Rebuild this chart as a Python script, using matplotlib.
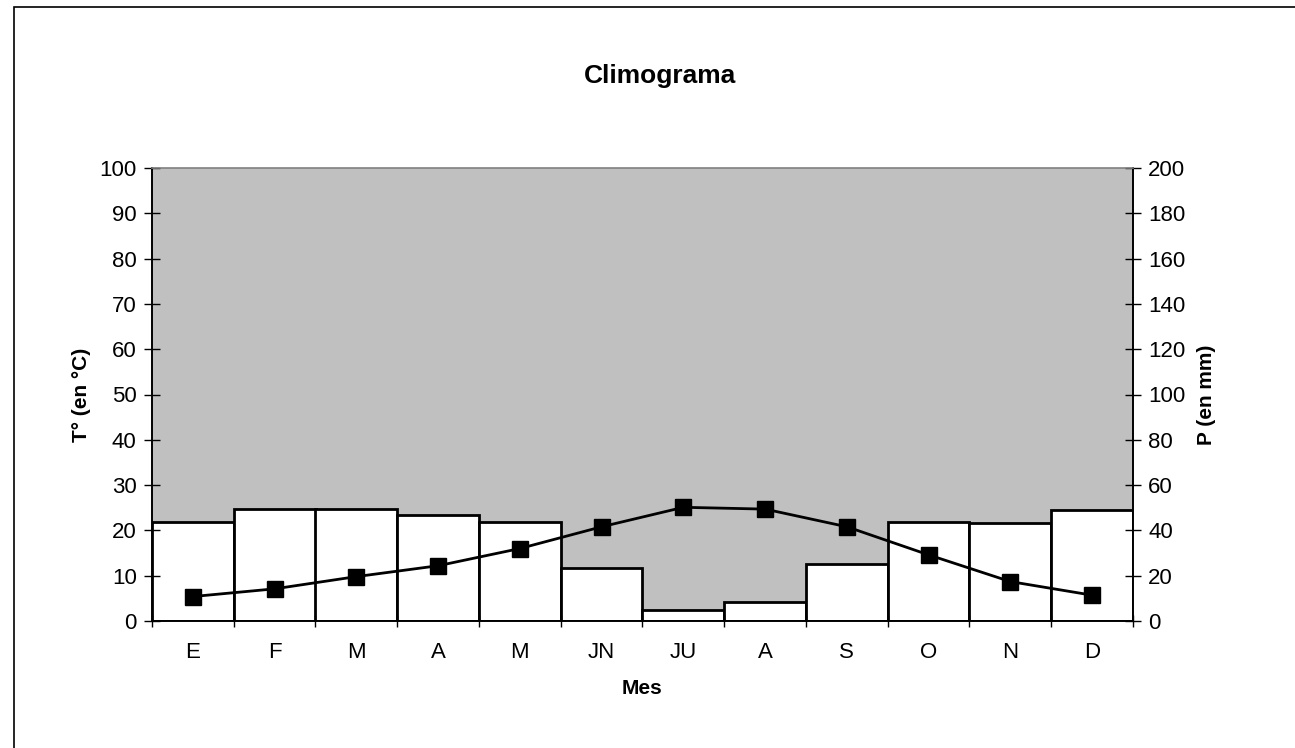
import numpy as np
import matplotlib.pyplot as plt
from matplotlib.patches import Rectangle

# =====================================================
# Data
# =====================================================

meses = ["E", "F", "M", "A", "M", "JN", "JU", "A", "S", "O", "N", "D"]

temperatura = [5.4, 7.1, 9.8, 12.2, 16.0, 20.8, 25.1, 24.7, 20.8, 14.6, 8.7, 5.7]

precipitacion = [43.6, 49.4, 49.6, 47.0, 43.6, 23.6, 4.8, 8.6, 25.2, 43.6, 43.2, 48.8]

plt.rcParams['font.family'] = ['Liberation Sans', 'DejaVu Sans']

W, H = 1295, 748
fig = plt.figure(figsize=(W/100, H/100), dpi=100)

# outer frame (only left/top visible in reference)
fig.patches.append(
    Rectangle((14/W, -0.1), 1.2, 1 - 7/H + 0.1,
              transform=fig.transFigure, fill=False,
              edgecolor="black", linewidth=1.2)
)

left, right = 152/W, 1133/W
bottom, top = 1 - 621/H, 1 - 168/H

ax = fig.add_axes([left, bottom, right-left, top-bottom])
ax2 = ax.twinx()

x = np.arange(len(meses))

# precipitation bars on right axis
ax2.bar(
    x,
    precipitacion,
    width=1.0,
    color="white",
    edgecolor="black",
    linewidth=2,
    zorder=1
)
ax2.set_ylim(0, 200)
ax2.set_yticks(np.arange(0, 201, 20))

# temperature line on left axis, drawn above bars
ax.set_zorder(ax2.get_zorder() + 1)
ax.patch.set_visible(False)
ax2.patch.set_visible(True)
ax2.patch.set_facecolor("#C0C0C0")

ax.plot(
    x,
    temperatura,
    color="black",
    linewidth=2,
    marker="s",
    markersize=11,
    zorder=5
)

ax.set_ylim(0, 100)
ax.set_yticks(np.arange(0, 101, 10))
ax.set_xlim(-0.5, len(meses) - 0.5)

ax.set_xticks(x)
ax.set_xticklabels(meses)
ax.set_xticks(np.arange(-0.5, len(meses)), minor=True)
ax.tick_params(axis="x", which="major", length=0, pad=15, labelsize=16)
ax.tick_params(axis="x", which="minor", length=8, direction="inout", width=1)
ax.tick_params(axis="y", length=12, direction="inout", width=1, labelsize=16, pad=5)
ax2.tick_params(axis="y", length=12, direction="inout", width=1, labelsize=16, pad=5)

for a in (ax, ax2):
    for s in a.spines.values():
        s.set_linewidth(1.2)
    a.spines["top"].set_visible(False)

ax.spines["top"].set_visible(True)
ax.spines["top"].set_color("#808080")

ax.set_xlabel("Mes", fontsize=15, fontweight="bold", labelpad=12)
ax.set_ylabel("T° (en °C)", fontsize=15, fontweight="bold", labelpad=6)
ax2.set_ylabel("P (en mm)", fontsize=15, fontweight="bold", labelpad=8)

fig.text(660/W, 1 - 76/H, "Climograma", fontsize=19, fontweight="bold",
         ha="center", va="center")

fig.savefig("out.png", dpi=100)
